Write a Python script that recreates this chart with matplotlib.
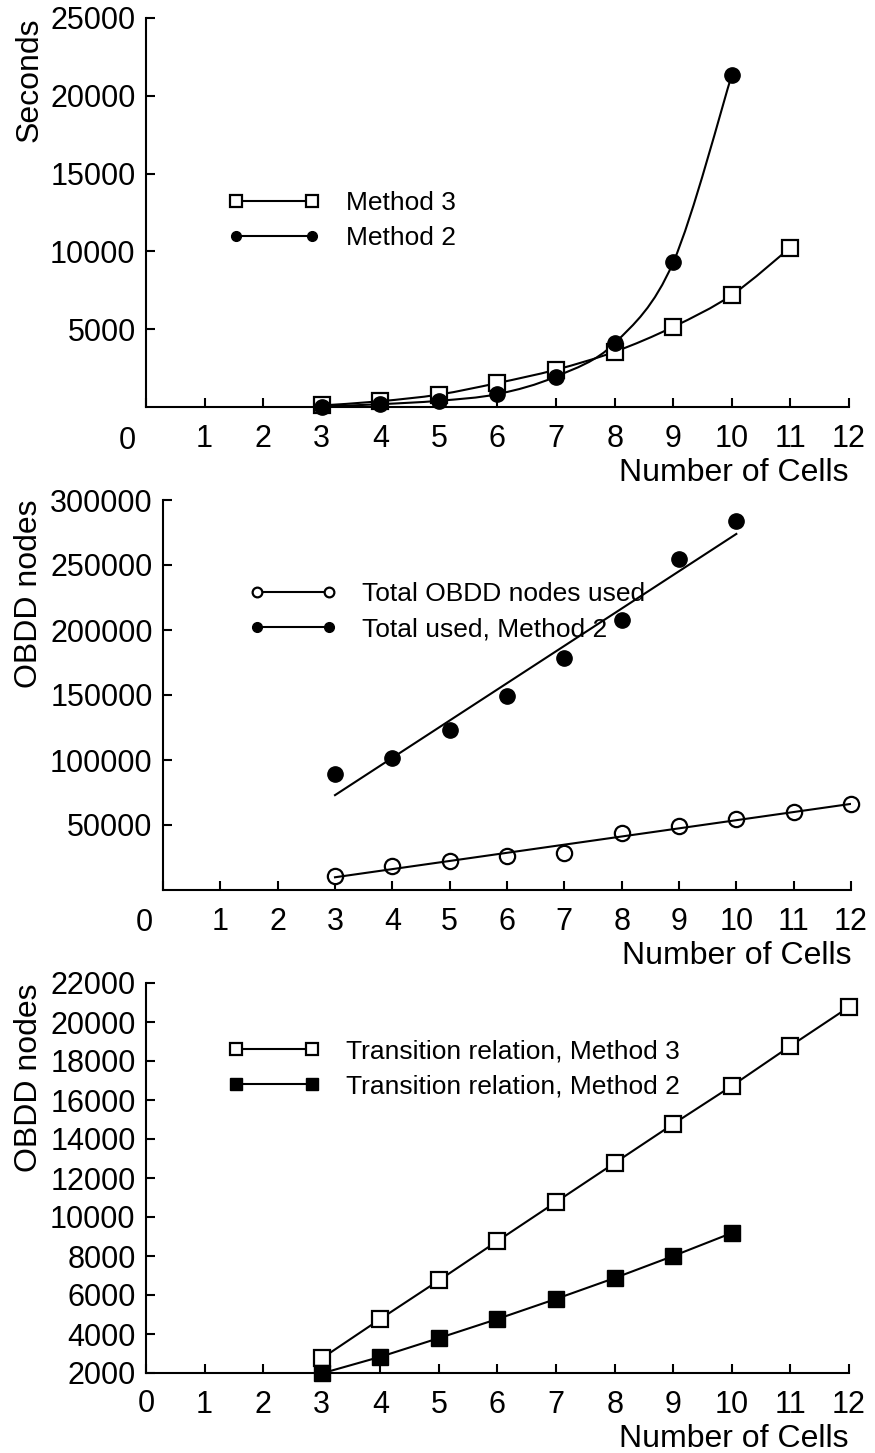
import numpy as np
import matplotlib
matplotlib.use('Agg')
import matplotlib.pyplot as plt
from matplotlib.path import Path
from matplotlib.patches import PathPatch
from matplotlib.lines import Line2D
from matplotlib.legend_handler import HandlerLine2D

plt.rcParams['font.family'] = ['Liberation Sans', 'DejaVu Sans']

#================================================================
# values

# top panel: run time
cells_m3 = [3, 4, 5, 6, 7, 8, 9, 10, 11]
secs_m3 = [100, 370, 800, 1540, 2400, 3550, 5150, 7200, 10250]
cells_m2 = [3, 4, 5, 6, 7, 8, 9, 10]
secs_m2 = [30, 180, 400, 830, 1960, 4100, 9300, 21350]

# middle panel: total OBDD nodes
cells_total = [3, 4, 5, 6, 7, 8, 9, 10, 11, 12]
nodes_total = [10800, 18500, 22300, 26200, 28500, 43900, 49200, 54600, 60000, 66200]
cells_used_m2 = [3, 4, 5, 6, 7, 8, 9, 10]
nodes_used_m2 = [89200, 101500, 123000, 149200, 178500, 207700, 254600, 283800]

# bottom panel: transition relation size
cells_tr_m3 = [3, 4, 5, 6, 7, 8, 9, 10, 11, 12]
nodes_tr_m3 = [2750, 4770, 6750, 8770, 10770, 12770, 14770, 16720, 18770, 20770]
cells_tr_m2 = [3, 4, 5, 6, 7, 8, 9, 10]
nodes_tr_m2 = [1980, 2830, 3790, 4770, 5800, 6870, 8000, 9180]

xticks = list(range(0, 13))

TICK_FS = 22
LABEL_FS = 23
LEG_FS = 19
LW = 1.5


def smooth_path(x, y):
    # catmull-rom through the points, drawn as cubic bezier segments
    x = np.asarray(x, float)
    y = np.asarray(y, float)
    pts = np.column_stack([x, y])
    verts = [pts[0]]
    codes = [Path.MOVETO]
    n = len(pts)
    for i in range(n - 1):
        p0 = pts[i - 1] if i > 0 else pts[i]
        p1 = pts[i]
        p2 = pts[i + 1]
        p3 = pts[i + 2] if i + 2 < n else pts[i + 1]
        c1 = p1 + (p2 - p0) / 6.0
        c2 = p2 - (p3 - p1) / 6.0
        verts += [c1, c2, p2]
        codes += [Path.CURVE4] * 3
    return Path(verts, codes)


def style_axes(ax, ylabel, yticks, ylim, label_x, zero_dx, zero_dy):
    ax.set_xlim(0, 12)
    ax.set_ylim(*ylim)
    ax.set_xticks(xticks)
    ax.set_xticklabels([''] + [str(t) for t in xticks[1:]])
    ax.set_yticks(yticks)
    ax.set_yticklabels([str(t) for t in yticks])
    ax.spines['top'].set_visible(False)
    ax.spines['right'].set_visible(False)
    ax.spines['left'].set_linewidth(LW)
    ax.spines['bottom'].set_linewidth(LW)
    ax.tick_params(direction='in', length=6.5, width=LW, labelsize=TICK_FS)
    ax.tick_params(axis='x', pad=12)
    ax.tick_params(axis='y', pad=7.5)
    ax.set_ylabel(ylabel, fontsize=LABEL_FS, loc='top')
    ax.yaxis.set_label_coords(label_x, 1.0)
    ax.set_xlabel('Number of Cells', fontsize=LABEL_FS, loc='right', labelpad=3)
    # the "0" under the corner
    ax.annotate('0', xy=(0, 0), xycoords='axes fraction', xytext=(zero_dx, zero_dy),
                textcoords='offset pixels', ha='center', va='center', fontsize=TICK_FS)


def add_legend(ax, handles, labels, x, y, hlen, tpad):
    hm = {h: HandlerLine2D(marker_pad=0, numpoints=2) for h in handles}
    ax.legend(handles, labels, loc='upper left', bbox_to_anchor=(x, y), frameon=False,
              fontsize=LEG_FS, handlelength=hlen, handletextpad=tpad, borderpad=0,
              borderaxespad=0, labelspacing=0.43, handler_map=hm)


W, H = 875, 1453
fig = plt.figure(figsize=(W / 100, H / 100), dpi=100)


def px_axes(left, right, top, bottom):
    return fig.add_axes([left / W, 1 - bottom / H, (right - left) / W, (bottom - top) / H])


#----------------------------------------------------------------
# top: seconds
ax1 = px_axes(146, 849, 18, 407)
ax1.add_patch(PathPatch(smooth_path(cells_m3, secs_m3), fill=False, lw=LW, ec='black'))
ax1.add_patch(PathPatch(smooth_path(cells_m2, secs_m2), fill=False, lw=LW, ec='black'))
ax1.plot(cells_m3, secs_m3, 's', ms=11.5, mfc='white', mec='black', mew=1.6, ls='none', clip_on=False)
ax1.plot(cells_m2, secs_m2, 'o', ms=11, color='black', ls='none', clip_on=False)
style_axes(ax1, 'Seconds', [5000, 10000, 15000, 20000, 25000], (0, 25000), -0.145, -19, -34)
h1 = Line2D([], [], color='black', lw=LW, marker='s', ms=8, mfc='white', mec='black', mew=1.6)
h2 = Line2D([], [], color='black', lw=LW, marker='o', ms=7, mfc='black', mec='black')
add_legend(ax1, [h1, h2], ['Method 3', 'Method 2'], 0.128, 0.555, 2.88, 1.3)

#----------------------------------------------------------------
# middle: total nodes, with straight line fits
ax2 = px_axes(163, 851, 500, 890)
ax2.plot(cells_total, nodes_total, 'o', ms=11, mfc='white', mec='black', mew=1.6, ls='none', clip_on=False)
ax2.plot(cells_used_m2, nodes_used_m2, 'o', ms=11, color='black', ls='none', clip_on=False)
fit_t = np.polyfit(cells_total, nodes_total, 1)
fit_u = np.polyfit(cells_used_m2, nodes_used_m2, 1)
xt = np.array([cells_total[0], cells_total[-1]])
xu = np.array([cells_used_m2[0], cells_used_m2[-1]])
ax2.plot(xt, np.polyval(fit_t, xt), color='black', lw=LW)
ax2.plot(xu, np.polyval(fit_u, xu), color='black', lw=LW)
style_axes(ax2, 'OBDD nodes', [50000, 100000, 150000, 200000, 250000, 300000], (0, 300000),
           -0.173, -19, -33)
h3 = Line2D([], [], color='black', lw=LW, marker='o', ms=7, mfc='white', mec='black', mew=1.6)
h4 = Line2D([], [], color='black', lw=LW, marker='o', ms=7, mfc='black', mec='black')
add_legend(ax2, [h3, h4], ['Total OBDD nodes used', 'Total used, Method 2'], 0.1366, 0.79, 2.73, 1.25)

#----------------------------------------------------------------
# bottom: transition relation
ax3 = px_axes(146, 849, 983, 1373)
ax3.plot(cells_tr_m3, nodes_tr_m3, '-s', color='black', lw=LW, ms=11.5, mfc='white', mec='black', mew=1.6, clip_on=False)
ax3.plot(cells_tr_m2, nodes_tr_m2, '-s', color='black', lw=LW, ms=11.5, mfc='black', mec='black', clip_on=False)
style_axes(ax3, 'OBDD nodes', list(range(2000, 22001, 2000)), (2000, 22000), -0.145, 0, -31)
h5 = Line2D([], [], color='black', lw=LW, marker='s', ms=8, mfc='white', mec='black', mew=1.6)
h6 = Line2D([], [], color='black', lw=LW, marker='s', ms=8, mfc='black', mec='black')
add_legend(ax3, [h5, h6], ['Transition relation, Method 3', 'Transition relation, Method 2'],
           0.128, 0.856, 2.88, 1.3)

fig.savefig('out.png', dpi=100)
